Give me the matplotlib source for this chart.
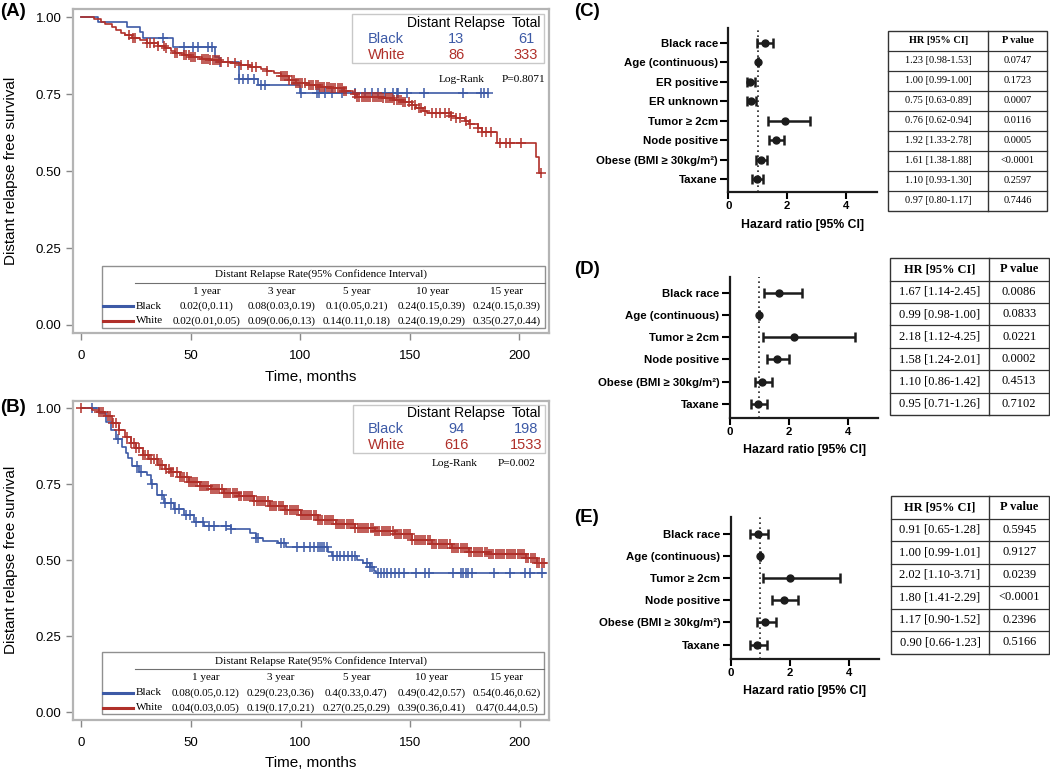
import numpy as np
import matplotlib
matplotlib.use("Agg")
import matplotlib.pyplot as plt
from matplotlib.lines import Line2D
from matplotlib.patches import Rectangle

# ---------------- data ----------------
# Panel A : Kaplan-Meier (time in months, survival)
A_black_t = [0, 7.5, 21, 27, 28, 42, 61, 63, 72, 80.6, 99.8, 185.9]
A_black_s = [1.0, 0.984, 0.967, 0.951, 0.934, 0.902, 0.872, 0.856, 0.800, 0.781, 0.755, 0.755]
A_black_c = [37.5, 47, 51, 53.5, 58, 59.8, 63.5, 72, 73.8, 76, 79, 82, 84, 100.2, 107.5, 108.7,
             111.3, 114.3, 118.9, 125, 129.5, 132.6, 135.6, 138.7, 142.5, 144, 144.8, 148.6,
             156.5, 174.2, 182.4, 183.9, 185.9]

A_white_t = [0, 6, 9, 11, 14, 16, 18, 20, 23, 27, 30, 35, 38, 41, 43, 47, 50, 55, 59, 64, 68,
             73, 77, 82, 85, 88, 91, 95, 98, 104, 109, 114, 120, 124, 126, 138, 143, 147, 151,
             153, 156, 158, 169, 171, 175, 177, 181, 183, 190, 207.7, 209, 210]
A_white_s = [1.0, 0.993, 0.985, 0.978, 0.968, 0.959, 0.950, 0.942, 0.933, 0.925, 0.916, 0.908,
             0.900, 0.890, 0.883, 0.877, 0.872, 0.866, 0.861, 0.855, 0.851, 0.846, 0.840, 0.832,
             0.825, 0.818, 0.808, 0.797, 0.788, 0.781, 0.775, 0.769, 0.760, 0.750, 0.742, 0.737,
             0.732, 0.726, 0.716, 0.706, 0.697, 0.690, 0.680, 0.672, 0.662, 0.652, 0.640, 0.626,
             0.590, 0.547, 0.493, 0.493]
A_white_c = [22, 23.5, 24.7, 30, 31.5, 33, 35, 37.6, 38.5, 43, 43.6, 47, 48, 49, 50, 51, 52,
             55, 56, 57, 58, 59, 60, 61, 62, 63, 64, 67, 70, 73, 76, 78, 80, 85, 91, 92, 93, 94,
             95, 96, 97, 98, 99, 100, 101, 102, 104, 105, 106, 107, 108, 109, 110, 111, 112,
             113, 114, 115, 116, 117, 118, 119, 120, 121, 125, 126, 127, 128, 129, 130, 131,
             132, 133, 134, 135, 136, 137, 138, 139, 140, 141, 142, 143, 144, 145, 146, 147,
             148, 149.5, 151, 152.5, 154, 155, 157, 160, 162, 164, 166, 168, 169, 171, 173,
             175.5, 177.7, 181, 183, 185, 187, 191.4, 194, 195.7, 200.9, 209.8]

# Panel B : Kaplan-Meier
B_black_t = [0, 8.1, 11.1, 13.5, 15.7, 18.7, 20.2, 21.3, 23.3, 26.3, 30.1, 31.9, 34.6, 37.7,
             42.3, 46.8, 51.4, 55.9, 68.1, 77, 79.6, 83, 89.9, 93.3, 112.6, 114.2, 125.6,
             128.6, 131.6, 133.6, 134.5, 211.7]
B_black_s = [1.0, 0.983, 0.955, 0.929, 0.898, 0.874, 0.852, 0.835, 0.810, 0.791, 0.781, 0.750,
             0.715, 0.690, 0.670, 0.648, 0.627, 0.613, 0.604, 0.589, 0.575, 0.565, 0.556,
             0.545, 0.528, 0.514, 0.501, 0.490, 0.477, 0.466, 0.459, 0.459]
B_black_c = [5, 16.6, 25.6, 27.3, 32.4, 36.7, 38.4, 41, 42.7, 44.4, 47.9, 49.6, 52.1, 55.6,
             58.1, 60.7, 65.9, 68.4, 79.6, 80.4, 91.3, 92.5, 98.5, 101.5, 104.5, 106.2, 107.9,
             108.8, 109.6, 110.5, 112.2, 114.8, 116.5, 118.2, 119.9, 121.6, 123.3, 125,
             130.2, 131.9, 132.8, 135.3, 136.7, 138.0, 139.6, 141.3, 143.1, 144.8, 147.3,
             152.5, 156.8, 158.5, 169.6, 173.1, 174.3, 175.3, 176.6, 178.2, 188.2, 195.4,
             202.2, 204.8, 210.0]

B_white_t = [0, 5, 8, 11, 14, 17, 20, 22.5, 25, 28, 31, 35, 38, 41, 45, 49, 54, 59, 65, 72,
             79, 86, 93, 100, 108, 116, 125, 134, 143, 151, 160, 169, 177, 186, 203, 208, 211.7]
B_white_s = [1.0, 0.995, 0.989, 0.976, 0.952, 0.930, 0.905, 0.885, 0.868, 0.848, 0.833, 0.814,
             0.802, 0.789, 0.774, 0.759, 0.745, 0.734, 0.722, 0.710, 0.695, 0.680, 0.664,
             0.650, 0.634, 0.619, 0.606, 0.598, 0.586, 0.568, 0.553, 0.540, 0.529, 0.521,
             0.507, 0.492, 0.492]
B_white_c = [0, 8, 9, 10, 12, 13, 14.5, 16, 17, 21, 22.5, 24, 25, 26.5, 28, 29, 30.5, 32, 33,
             34.5, 36, 37, 38.5, 40, 41, 42, 43.5, 45, 46, 47, 48, 49, 50, 51, 52, 53, 54, 55,
             56, 57, 58, 59, 60, 61, 62, 63, 64, 65, 66, 67, 68, 69, 70, 71, 72, 73, 74, 75,
             76, 77, 78, 79, 80, 81, 82, 83, 84, 85, 86, 87, 88, 89, 90, 91, 92, 93, 94, 95,
             96, 97, 98, 99, 100, 101, 102, 103, 104, 105, 106, 107, 108, 109, 110, 111, 112,
             113, 114, 115, 116, 117, 118, 119, 120, 121, 122, 123, 124, 125, 126, 127, 128,
             129, 130, 131, 132, 133, 134, 135, 136, 137, 138, 139, 140, 141, 142, 143, 144,
             145, 146, 147, 148, 149, 150, 151, 152, 153, 154, 155, 156, 157, 158, 159, 160,
             161, 162, 163, 164, 165, 166, 167, 168, 169, 170, 171, 172, 173, 174, 175, 176,
             177, 178, 179, 180, 181, 182, 183, 184, 185, 186, 187, 188, 189, 190, 191, 192,
             193, 194, 195, 196, 197, 198, 199, 200, 201, 202, 203, 204, 205, 206, 207, 208,
             209, 210, 211]

groups = ["Black", "White"]
A_events = ["13", "86"]
A_totals = ["61", "333"]
B_events = ["94", "616"]
B_totals = ["198", "1533"]
A_pvalue = "P=0.8071"
B_pvalue = "P=0.002"
years = ["1 year", "3 year", "5 year", "10 year", "15 year"]
A_black_rates = ["0.02(0,0.11)", "0.08(0.03,0.19)", "0.1(0.05,0.21)", "0.24(0.15,0.39)", "0.24(0.15,0.39)"]
A_white_rates = ["0.02(0.01,0.05)", "0.09(0.06,0.13)", "0.14(0.11,0.18)", "0.24(0.19,0.29)", "0.35(0.27,0.44)"]
B_black_rates = ["0.08(0.05,0.12)", "0.29(0.23,0.36)", "0.4(0.33,0.47)", "0.49(0.42,0.57)", "0.54(0.46,0.62)"]
B_white_rates = ["0.04(0.03,0.05)", "0.19(0.17,0.21)", "0.27(0.25,0.29)", "0.39(0.36,0.41)", "0.47(0.44,0.5)"]

# Forest plots
C_labels = ["Black race", "Age (continuous)", "ER positive", "ER unknown", "Tumor \u2265 2cm",
            "Node positive", "Obese (BMI \u2265 30kg/m\u00b2)", "Taxane"]
C_hr = [1.23, 1.00, 0.75, 0.76, 1.92, 1.61, 1.10, 0.97]
C_lo = [0.98, 0.99, 0.63, 0.62, 1.33, 1.38, 0.93, 0.80]
C_hi = [1.53, 1.00, 0.89, 0.94, 2.78, 1.88, 1.30, 1.17]
C_p = ["0.0747", "0.1723", "0.0007", "0.0116", "0.0005", "<0.0001", "0.2597", "0.7446"]

D_labels = ["Black race", "Age (continuous)", "Tumor \u2265 2cm", "Node positive",
            "Obese (BMI \u2265 30kg/m\u00b2)", "Taxane"]
D_hr = [1.67, 0.99, 2.18, 1.58, 1.10, 0.95]
D_lo = [1.14, 0.98, 1.12, 1.24, 0.86, 0.71]
D_hi = [2.45, 1.00, 4.25, 2.01, 1.42, 1.26]
D_p = ["0.0086", "0.0833", "0.0221", "0.0002", "0.4513", "0.7102"]

E_labels = D_labels
E_hr = [0.91, 1.00, 2.02, 1.80, 1.17, 0.90]
E_lo = [0.65, 0.99, 1.10, 1.41, 0.90, 0.66]
E_hi = [1.28, 1.01, 3.71, 2.29, 1.52, 1.23]
E_p = ["0.5945", "0.9127", "0.0239", "<0.0001", "0.2396", "0.5166"]

# ---------------- styling ----------------
W, H = 1050, 772
BLUE = "#3D5AA6"
RED = "#B0302A"
FRAME = "#B4B4B4"
SANS = ["Liberation Sans", "DejaVu Sans"]
SERIF = ["Liberation Serif", "DejaVu Serif"]
plt.rcParams["font.family"] = SANS

fig = plt.figure(figsize=(W / 100, H / 100), dpi=100)


def fx(x):
    return x / W


def fy(y):
    return 1 - y / H


def ftext(x, y, s, **kw):
    kw.setdefault("va", "center")
    fig.text(fx(x), fy(y), s, **kw)


def fline(x0, x1, y0, y1, **kw):
    fig.add_artist(Line2D([fx(x0), fx(x1)], [fy(y0), fy(y1)], transform=fig.transFigure, **kw))


def frect(x0, y0, x1, y1, **kw):
    fig.add_artist(Rectangle((fx(x0), fy(y1)), fx(x1) - fx(x0), fy(y0) - fy(y1),
                             transform=fig.transFigure, fill=False, **kw))


def km(ax, t, s, c, color):
    t = np.asarray(t, float)
    s = np.asarray(s, float)
    c = np.asarray(c, float)
    ax.step(t, s, where="post", color=color, lw=1.2)
    idx = np.clip(np.searchsorted(t, c, side="right") - 1, 0, len(s) - 1)
    ax.plot(c, s[idx], ls="none", marker="+", ms=7, mew=1.1, color=color)


def km_panel(box, data, legend, table, label_y, xlab_y):
    l, b, w, h, ylim = box
    ax = fig.add_axes([fx(l), fy(b), fx(w), h / H])
    for (t, s, c, col) in data:
        km(ax, t, s, c, col)
    ax.set_xlim(-3.97, 213.4)
    ax.set_ylim(*ylim)
    ax.set_xticks([0, 50, 100, 150, 200])
    ax.set_yticks([0, 0.25, 0.5, 0.75, 1.0])
    ax.set_yticklabels(["0.00", "0.25", "0.50", "0.75", "1.00"])
    for sp in ax.spines.values():
        sp.set_color(FRAME)
        sp.set_linewidth(1.6)
    ax.tick_params(direction="out", length=5, width=1, color="#888888", labelsize=9.5,
                   pad=3)
    ax.tick_params(axis="x", pad=7)
    # legend box
    (bx0, by0, bx1, by1, rows_y, ev, tot, lr_x, p_x, lr_y, ptxt) = legend
    frect(bx0, by0, bx1, by1, ec="#C8C8C8", lw=1.0)
    ftext(456.4, rows_y[0], "Distant Relapse", ha="center", fontsize=10)
    ftext(526, rows_y[0], "Total", ha="center", fontsize=10)
    for i, (g, col) in enumerate(zip(groups, [BLUE, RED])):
        ftext(367.5, rows_y[i + 1], g, ha="left", fontsize=10.5, color=col)
        ftext(456.4, rows_y[i + 1], ev[i], ha="center", fontsize=10.5, color=col)
        ftext(526, rows_y[i + 1], tot[i], ha="center", fontsize=10.5, color=col)
    ftext(lr_x, lr_y, "Log-Rank", ha="left", fontsize=8.2, family=SERIF)
    ftext(p_x, lr_y, ptxt, ha="left", fontsize=8.2, family=SERIF)
    # rate table
    (tx0, ty0, tx1, ty1, head_y, uline_y, yr_y, rb_y, rw_y, cols, brates, wrates) = table
    frect(tx0, ty0, tx1, ty1, ec="#909090", lw=1.0)
    ftext((tx0 + tx1) / 2 - 2, head_y, "Distant Relapse Rate(95% Confidence Interval)",
          ha="center", fontsize=8, family=SERIF)
    fline(135.3, tx1, uline_y, uline_y, color="#707070", lw=0.8)
    for cx, yr, br, wr in zip(cols, years, brates, wrates):
        ftext(cx, yr_y, yr, ha="center", fontsize=8, family=SERIF)
        ftext(cx, rb_y, br, ha="center", fontsize=8, family=SERIF)
        ftext(cx, rw_y, wr, ha="center", fontsize=8, family=SERIF)
    for g, col, yy in zip(groups, [BLUE, RED], [rb_y, rw_y]):
        fline(tx0 + 1, 132.5, yy, yy, color=col, lw=2.2)
        ftext(135.8, yy, g, ha="left", fontsize=8, family=SERIF)
    ftext(11, label_y, "Distant relapse free survival", ha="center", rotation=90, fontsize=11)
    ftext((l + l + w) / 2, xlab_y, "Time, months", ha="center", fontsize=11)
    return ax


# Panel A
km_panel((72.6, 333.3, 476, 324, (-0.027, 1.026)),
         [(A_black_t, A_black_s, A_black_c, BLUE), (A_white_t, A_white_s, A_white_c, RED)],
         (351.8, 14, 543.7, 63.3, [22.7, 39, 55], A_events, A_totals, 438.4, 501.6, 79, A_pvalue),
         (102.3, 265.7, 544.5, 327.7, 274.3, 282.7, 291, 306, 321,
          [206.6, 281.5, 356.7, 432, 506.8], A_black_rates, A_white_rates),
         171.3, 377.3)

# Panel B
km_panel((72.6, 720, 476.5, 319.3, (-0.025, 1.025)),
         [(B_black_t, B_black_s, B_black_c, BLUE), (B_white_t, B_white_s, B_white_c, RED)],
         (352.6, 405, 544.5, 453.3, [413.3, 429.3, 445], B_events, B_totals, 431.6, 497.8, 463.3, B_pvalue),
         (101.6, 652.3, 543.7, 714, 661, 668.7, 677.7, 692.7, 707.7,
          [205.8, 281, 356.3, 431.6, 506.5], B_black_rates, B_white_rates),
         560, 763.3)


# ---------------- forest plots ----------------
def forest(left, top, bottom, right, labels, hr, lo, hi, xlab_y):
    n = len(labels)
    ax = fig.add_axes([fx(left), fy(bottom), fx(right) - fx(left), (bottom - top) / H])
    y = np.arange(n)
    hr = np.asarray(hr)
    lo = np.asarray(lo)
    hi = np.asarray(hi)
    ax.axvline(1.0, color="#222222", lw=1.2, ls=(0, (1, 2)), zorder=1)
    ax.errorbar(hr, y, xerr=[hr - lo, hi - hr], fmt="o", color="#1c1c1c", ms=5,
                capsize=3.5, elinewidth=1.8, capthick=1.8, zorder=3)
    ax.set_xlim(0, 5.03)
    ax.set_ylim(n - 1 + 0.66, -0.73)
    ax.set_xticks([0, 2, 4])
    ax.set_yticks(y)
    ax.set_yticklabels(labels)
    for sp in ["top", "right"]:
        ax.spines[sp].set_visible(False)
    for sp in ["left", "bottom"]:
        ax.spines[sp].set_linewidth(1.6)
        ax.spines[sp].set_color("#1c1c1c")
    ax.tick_params(axis="y", length=6, width=1.5, pad=1.5, labelsize=8.2)
    ax.tick_params(axis="x", length=5, width=1.5, pad=1.5, labelsize=8.2)
    for tl in ax.get_xticklabels() + ax.get_yticklabels():
        tl.set_fontweight("bold")
    ftext((left + right) / 2, xlab_y, "Hazard ratio [95% CI]", ha="center",
          fontsize=8.8, fontweight="bold")
    return ax


def hr_table(x0, xd, x1, y0, rh, hr, lo, hi, pv, fs):
    n = len(hr) + 1
    frect(x0, y0, x1, y0 + n * rh, ec="#333333", lw=1.0)
    fline(xd, xd, y0, y0 + n * rh, color="#333333", lw=1.0)
    for i in range(1, n):
        fline(x0, x1, y0 + i * rh, y0 + i * rh, color="#333333", lw=0.9)
    c1 = (x0 + xd) / 2
    c2 = (xd + x1) / 2
    ftext(c1, y0 + rh / 2, "HR [95% CI]", ha="center", fontsize=fs, family=SERIF,
          fontweight="bold")
    ftext(c2, y0 + rh / 2, "P value", ha="center", fontsize=fs, family=SERIF,
          fontweight="bold")
    for i, (h_, l_, u_, p_) in enumerate(zip(hr, lo, hi, pv)):
        yy = y0 + (i + 1.5) * rh
        ftext(c1, yy, f"{h_:.2f} [{l_:.2f}-{u_:.2f}]", ha="center", fontsize=fs, family=SERIF)
        ftext(c2, yy, p_, ha="center", fontsize=fs, family=SERIF)


forest(728.3, 28.3, 192, 876.7, C_labels, C_hr, C_lo, C_hi, 225.3)
hr_table(888.3, 988.3, 1047.3, 30.7, 20.0, C_hr, C_lo, C_hi, C_p, 7.4)

forest(730, 276.7, 418.3, 878.3, D_labels, D_hr, D_lo, D_hi, 450)
hr_table(890, 989, 1049.3, 258.3, 22.4, D_hr, D_lo, D_hi, D_p, 8.9)

forest(730.7, 517.3, 659.3, 879, E_labels, E_hr, E_lo, E_hi, 691)
hr_table(890.7, 989.3, 1049.3, 496, 22.5, E_hr, E_lo, E_hi, E_p, 8.9)

# panel letters
for lab, x, y in [("(A)", 0, 11), ("(B)", 0, 407), ("(C)", 574, 11), ("(D)", 574, 269),
                  ("(E)", 574, 518)]:
    ftext(x, y, lab, ha="left", fontsize=13.5, fontweight="bold")

fig.savefig("out.png", dpi=100)
